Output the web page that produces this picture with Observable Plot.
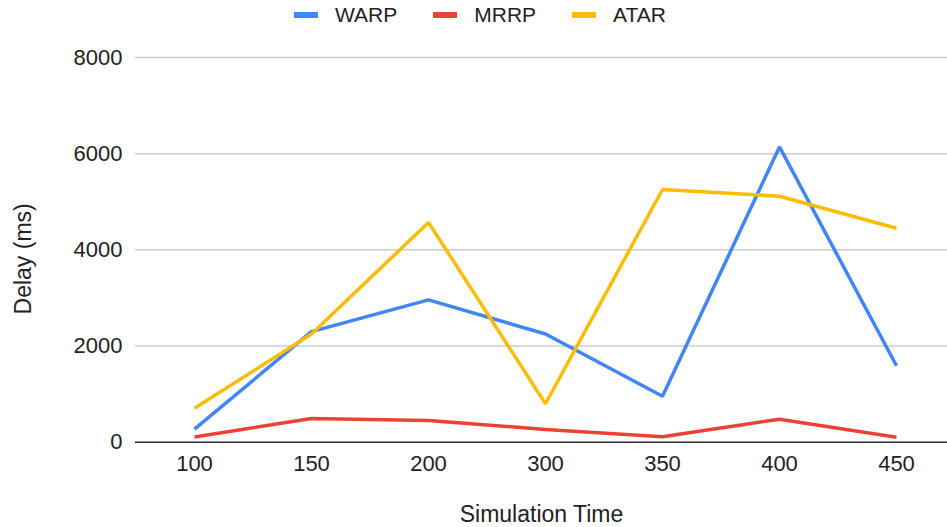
<!DOCTYPE html>
<html><head><meta charset="utf-8">
<script src="https://cdn.jsdelivr.net/npm/d3@7"></script>
<script src="https://cdn.jsdelivr.net/npm/@observablehq/plot@0.6"></script>
<style>
body{margin:0;background:#fff;font-family:"Liberation Sans",Arial,sans-serif;color:#222;}
#legend{height:30px;width:947px;display:flex;align-items:center;padding-left:294px;box-sizing:border-box;}
.item{display:flex;align-items:center;margin-right:36px;}
.sw{width:24px;height:6px;margin-right:17px;}
.lt{font-size:21px;line-height:30px;}
svg{display:block;}
</style>
</head><body>
<div id="legend"></div>
<div id="chart"></div>
<script>
const categories = ["100","150","200","300","350","400","450"];
const series = ["WARP","MRRP","ATAR"];
const colors = ["#4285F4","#EA4335","#FBBC04"];
const warp = [270, 2300, 2960, 2250, 955, 6140, 1590];
const mrrp = [110, 495, 450, 265, 115, 478, 105];
const atar = [705, 2250, 4570, 800, 5255, 5115, 4450];
const yTicks = [0, 2000, 4000, 6000, 8000];
const xTitle = "Simulation Time";
const yTitle = "Delay (ms)";

const valuesBySeries = [warp, mrrp, atar];
const table = [];
series.forEach((s, i) => categories.forEach((c, j) => table.push({s, t: c, v: valuesBySeries[i][j]})));

const legend = document.getElementById("legend");
series.forEach((s, i) => {
  const it = document.createElement("div"); it.className = "item";
  const sw = document.createElement("div"); sw.className = "sw"; sw.style.background = colors[i];
  const lt = document.createElement("span"); lt.className = "lt"; lt.textContent = s;
  it.appendChild(sw); it.appendChild(lt); legend.appendChild(it);
});

const chart = Plot.plot({
  width: 947,
  height: 497,
  marginTop: 27,
  marginBottom: 85.3,
  marginLeft: 135,
  marginRight: 0,
  style: {fontFamily: '"Liberation Sans", Arial, sans-serif', fontSize: "22px", color: "#222", background: "#fff"},
  x: {type: "point", domain: categories, range: [193.3, 895.7], padding: 0},
  y: {domain: [0, 8000]},
  color: {domain: series, range: colors},
  marks: [
    Plot.gridY(yTicks, {stroke: "#ccc", strokeOpacity: 1, strokeWidth: 1.5}),
    Plot.ruleY([0], {stroke: "#333", strokeWidth: 1.5}),
    Plot.lineY(table, {x: "t", y: "v", z: "s", stroke: "s", strokeWidth: 3.5, strokeLinejoin: "miter", strokeLinecap: "butt"}),
    Plot.axisY(yTicks, {tickSize: 0, tickPadding: 13, fontSize: 22, label: null, tickFormat: d => String(d)}),
    Plot.axisX({tickSize: 0, tickPadding: 13, fontSize: 22, label: null}),
    Plot.text([xTitle], {frameAnchor: "bottom", dy: 72, fontSize: 23, lineAnchor: "middle", textAnchor: "middle"}),
    Plot.text([yTitle], {frameAnchor: "left", dx: -112, dy: 9, rotate: -90, fontSize: 23, lineAnchor: "middle", textAnchor: "middle"})
  ]
});
document.getElementById("chart").appendChild(chart);
</script>
</body></html>
